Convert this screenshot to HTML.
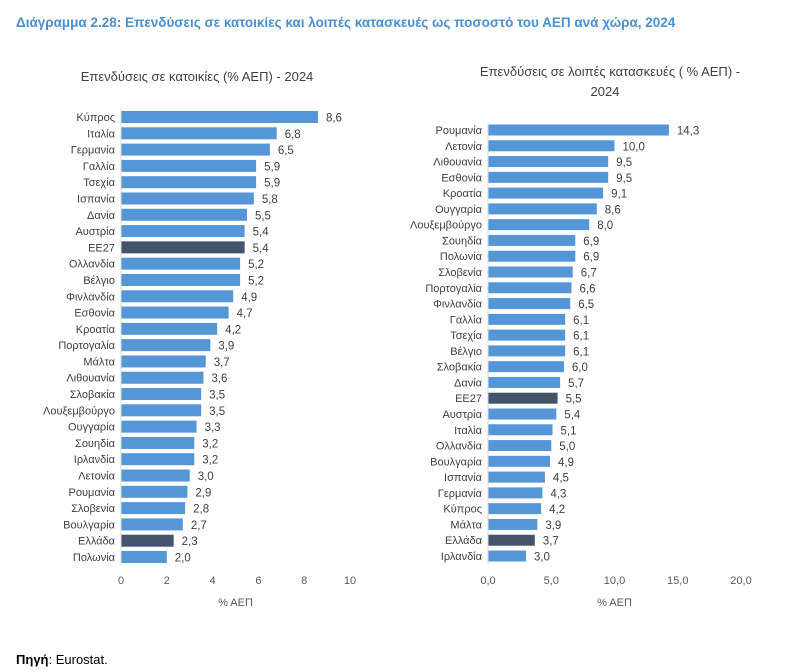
<!DOCTYPE html>
<html><head><meta charset="utf-8"><style>
body{margin:0;background:#fff;font-family:"Liberation Sans",sans-serif;}
svg text{font-family:"Liberation Sans",sans-serif;}
</style></head><body>
<svg width="788" height="667" viewBox="0 0 788 667" xmlns="http://www.w3.org/2000/svg">
<text x="16" y="27" font-size="13.5" font-weight="bold" fill="#4a8fd0">Διάγραμμα 2.28: Επενδύσεις σε κατοικίες και λοιπές κατασκευές ως ποσοστό του ΑΕΠ ανά χώρα, 2024</text>
<text x="197" y="81" font-size="13" fill="#404040" text-anchor="middle">Επενδύσεις σε κατοικίες (% ΑΕΠ) - 2024</text>
<text x="610" y="76" font-size="13" fill="#404040" text-anchor="middle">Επενδύσεις σε λοιπές κατασκευές ( % ΑΕΠ) -</text>
<text x="605" y="96" font-size="13" fill="#404040" text-anchor="middle">2024</text>
<g id="left"></g><g id="right"></g>
<text x="16" y="664" font-size="13" fill="#000"><tspan font-weight="bold">Πηγή</tspan>: Eurostat.</text>
</svg>
<script>
const leftCats=["Κύπρος","Ιταλία","Γερμανία","Γαλλία","Τσεχία","Ισπανία","Δανία","Αυστρία","ΕΕ27","Ολλανδία","Βέλγιο","Φινλανδία","Εσθονία","Κροατία","Πορτογαλία","Μάλτα","Λιθουανία","Σλοβακία","Λουξεμβούργο","Ουγγαρία","Σουηδία","Ιρλανδία","Λετονία","Ρουμανία","Σλοβενία","Βουλγαρία","Ελλάδα","Πολωνία"];
const leftVals=[8.6,6.8,6.5,5.9,5.9,5.8,5.5,5.4,5.4,5.2,5.2,4.9,4.7,4.2,3.9,3.7,3.6,3.5,3.5,3.3,3.2,3.2,3.0,2.9,2.8,2.7,2.3,2.0];
const leftTicks=[0,2,4,6,8,10];
const rightCats=["Ρουμανία","Λετονία","Λιθουανία","Εσθονία","Κροατία","Ουγγαρία","Λουξεμβούργο","Σουηδία","Πολωνία","Σλοβενία","Πορτογαλία","Φινλανδία","Γαλλία","Τσεχία","Βέλγιο","Σλοβακία","Δανία","ΕΕ27","Αυστρία","Ιταλία","Ολλανδία","Βουλγαρία","Ισπανία","Γερμανία","Κύπρος","Μάλτα","Ελλάδα","Ιρλανδία"];
const rightVals=[14.3,10.0,9.5,9.5,9.1,8.6,8.0,6.9,6.9,6.7,6.6,6.5,6.1,6.1,6.1,6.0,5.7,5.5,5.4,5.1,5.0,4.9,4.5,4.3,4.2,3.9,3.7,3.0];
const rightTicks=[0,5,10,15,20];
const NS="http://www.w3.org/2000/svg";
function mk(p,tag,a){const e=document.createElementNS(NS,tag);for(const k in a)e.setAttribute(k,a[k]);p.appendChild(e);return e;}
function draw(gid,cats,vals,ticks,x0,x1,max,y0,y1,bh,dec,side){
  const g=document.getElementById(gid);
  const sx=v=>x0+(x1-x0)*v/max;
  const step=(y1-y0)/(cats.length-1);
  const sy=i=>y0+i*step;
  cats.forEach((c,i)=>{
    const dark=(c==="ΕΕ27"||c==="Ελλάδα");
    const r=mk(g,"rect",{x:x0,y:sy(i)-bh/2,width:sx(vals[i])-x0,height:bh,fill:dark?"#44546a":"#5596d6"});
    
    
    const l=mk(g,"text",{x:x0-6,y:sy(i)+4,"font-size":"11","text-anchor":"end",fill:"#404040"});l.textContent=c;
    
    
    const v=mk(g,"text",{x:sx(vals[i])+8,y:sy(i)+4.5,"font-size":"11.5",fill:"#404040"});v.textContent=vals[i].toFixed(1).replace('.',',');
    
    
  });
  const ax=mk(g,"line",{x1:x0,x2:x0,y1:y0-step/2,y2:y1+step/2,stroke:"#d9d9d9"});
  
  
  ticks.forEach(t=>{
    const e=mk(g,"text",{x:sx(t),y:584,"font-size":"11","text-anchor":"middle",fill:"#595959"});
    e.textContent=dec?t.toFixed(1).replace('.',','):String(t);
    
    
  });
  const at=mk(g,"text",{x:(x0+sx(ticks[ticks.length-1]))/2,y:606,"font-size":"11","text-anchor":"middle",fill:"#595959"});
  at.textContent="% ΑΕΠ";
  
  
}
draw("left",leftCats,leftVals,leftTicks,121,350,10,117,557,12,false,"left");
draw("right",rightCats,rightVals,rightTicks,488,741,20,130,556,11,true,"right");
</script>
</body></html>
